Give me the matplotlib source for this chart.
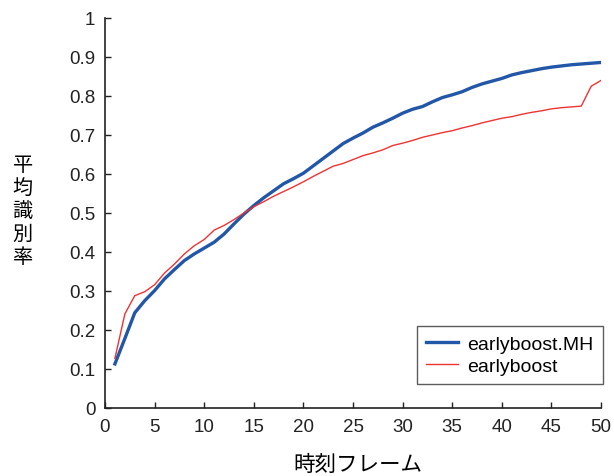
import numpy as np
import matplotlib
matplotlib.use('Agg')
import matplotlib.pyplot as plt

plt.rcParams['font.family'] = ['Liberation Sans', 'Noto Sans CJK JP', 'DejaVu Sans']

frames = list(range(1, 51))

mh_rate = [0.113, 0.178, 0.244, 0.275, 0.301, 0.331, 0.355, 0.378, 0.395, 0.410,
           0.425, 0.446, 0.472, 0.497, 0.519, 0.539, 0.557, 0.575, 0.588, 0.602,
           0.621, 0.640, 0.659, 0.678, 0.692, 0.705, 0.720, 0.731, 0.743, 0.756,
           0.766, 0.773, 0.785, 0.796, 0.803, 0.811, 0.822, 0.831, 0.838, 0.845,
           0.854, 0.860, 0.865, 0.870, 0.874, 0.877, 0.880, 0.882, 0.884, 0.886]

eb_rate = [0.127, 0.241, 0.288, 0.298, 0.316, 0.346, 0.369, 0.395, 0.416, 0.432,
           0.456, 0.468, 0.483, 0.500, 0.516, 0.529, 0.543, 0.555, 0.567, 0.580,
           0.594, 0.607, 0.620, 0.627, 0.637, 0.647, 0.654, 0.662, 0.673, 0.679,
           0.686, 0.694, 0.700, 0.706, 0.711, 0.718, 0.724, 0.731, 0.737, 0.743,
           0.747, 0.753, 0.758, 0.762, 0.767, 0.770, 0.772, 0.774, 0.825, 0.840]

x_ticks = [0, 5, 10, 15, 20, 25, 30, 35, 40, 45, 50]
y_ticks = [0, 0.1, 0.2, 0.3, 0.4, 0.5, 0.6, 0.7, 0.8, 0.9, 1]
y_labels = ['0', '0.1', '0.2', '0.3', '0.4', '0.5', '0.6', '0.7', '0.8', '0.9', '1']

fig = plt.figure(figsize=(6.14, 4.77), dpi=100)
ax = fig.add_axes([0.171, 0.1426, 0.808, 0.8176])

ax.plot(frames, mh_rate, color='#2257a8', lw=2.4, label='earlyboost.MH')
ax.plot(frames, eb_rate, color='#ee3333', lw=1.0, label='earlyboost')

ax.set_xlim(0, 50)
ax.set_ylim(0, 1)
ax.set_xticks(x_ticks)
ax.set_yticks(y_ticks)
ax.set_yticklabels(y_labels)
ax.tick_params(direction='in', length=4, width=1, labelsize=13.5, colors='#222222', pad=7)

for side in ['top', 'right']:
    ax.spines[side].set_visible(False)
for side in ['left', 'bottom']:
    ax.spines[side].set_color('#222222')
    ax.spines[side].set_linewidth(1.2)

leg = ax.legend(loc='lower right', bbox_to_anchor=(1.003, 0.062), fontsize=14,
                fancybox=False, edgecolor='#333333', handlelength=1.65,
                handletextpad=0.5, borderpad=0.45, labelspacing=0.25,
                borderaxespad=0)
leg.get_frame().set_linewidth(1.0)

fig.text(0.583, 0.025, '時刻フレーム', ha='center', va='center', fontsize=15.5,
         family=['Noto Sans CJK JP'])
fig.text(0.037, 0.557, '\n'.join('平均識別率'), ha='center', va='center', fontsize=14.5,
         family=['Noto Sans CJK JP'], linespacing=1.12)

fig.savefig('out.png', dpi=100)
